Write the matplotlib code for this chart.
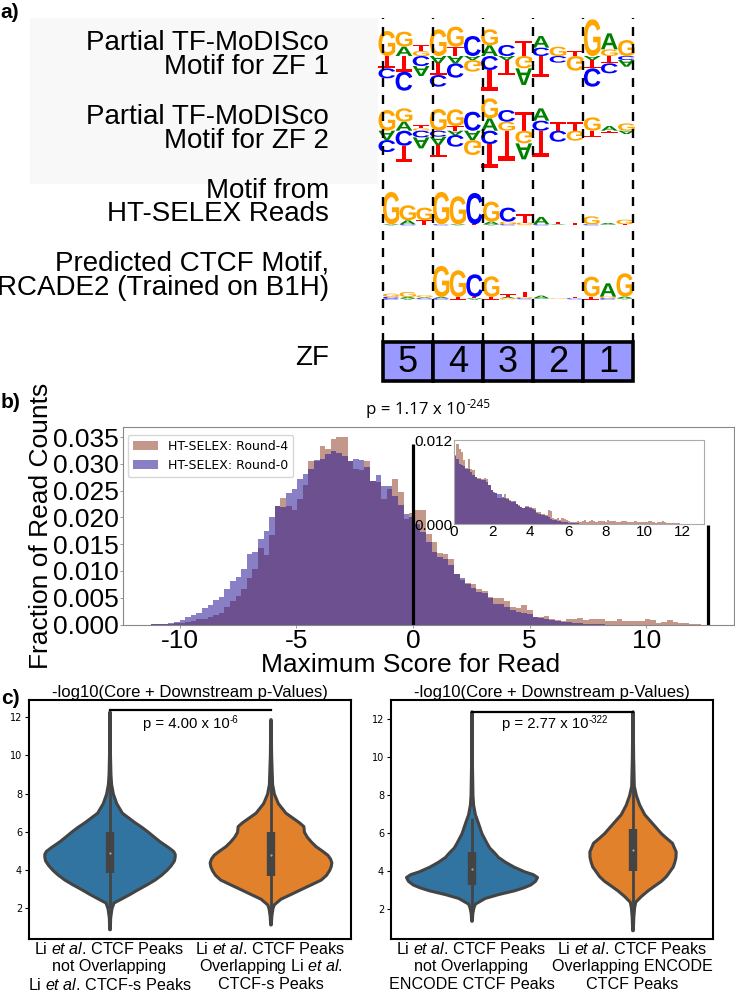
import numpy as np
import matplotlib
matplotlib.use('Agg')
import matplotlib.pyplot as plt
from matplotlib.font_manager import FontProperties
from matplotlib.patches import PathPatch, Rectangle, Patch
from matplotlib.path import Path
from matplotlib.textpath import TextPath
from matplotlib.transforms import Affine2D

plt.rcParams['font.family'] = ['Liberation Sans', 'DejaVu Sans']
plt.rcParams['mathtext.fontset'] = 'custom'
plt.rcParams['mathtext.rm'] = 'Liberation Sans'
plt.rcParams['mathtext.it'] = 'Liberation Sans:italic'

W, H = 735, 993

# sequence logos, one list per position, letters stacked out from the baseline
logo1_up = [[('G', 75)], [('A', 28), ('G', 45)], [('G', 15), ('T', 18)], [('G', 80)], [('T', 28), ('G', 60)],
            [('C', 60)], [('A', 32), ('G', 48)], [('C', 33)], [('T', 45)], [('C', 25), ('A', 35)],
            [('G', 28)], [('T', 15)], [('G', 110)], [('G', 20), ('A', 48)], [('G', 48)]]
logo1_down = [[('T', 37), ('C', 30)], [('T', 47), ('C', 57)], [('C', 30), ('A', 30)], [('A', 22), ('T', 35), ('C', 35)],
              [('A', 22), ('C', 43)], [('A', 12), ('G', 35)], [('C', 42), ('T', 62)], [('A', 12), ('T', 45)],
              [('G', 37), ('A', 50)], [('T', 64)], [('C', 20)], [('G', 44)], [('A', 12), ('T', 25), ('C', 55)],
              [('T', 22), ('C', 30)], [('C', 12), ('A', 20)]]
logo2_up = [[('G', 62)], [('A', 27), ('G', 40)], [('G', 7), ('T', 10)], [('G', 65)], [('T', 14), ('G', 50)],
            [('C', 57)], [('A', 37), ('G', 60)], [('G', 27), ('C', 35)], [('T', 57)], [('C', 30), ('A', 37)],
            [('T', 25)], [('T', 25)], [('G', 40)], [('A', 14)], [('G', 22)]]
logo2_down = [[('A', 28), ('C', 36)], [('C', 45), ('T', 48)], [('C', 20), ('A', 33)], [('C', 18), ('A', 25), ('T', 35)],
              [('A', 13), ('C', 35)], [('A', 28), ('G', 45)], [('C', 40), ('T', 73)], [('T', 90)],
              [('G', 38), ('A', 48)], [('T', 80)], [('C', 33)], [('G', 30)], [('T', 18)], [('T', 6)], [('A', 10)]]
logo3_up = [[('G', 97)], [('A', 12), ('G', 45)], [('T', 12), ('G', 38)], [('G', 97)], [('G', 84)],
            [('C', 94)], [('A', 8), ('G', 60)], [('G', 8), ('C', 42)], [('G', 5), ('T', 25)], [('A', 22)],
            [('T', 7)], [('T', 3)], [('G', 24)], [('A', 4)], [('G', 14)]]
logo3_down = [[('A', 3)], [('C', 3)], [('T', 2)], [('C', 3)], [('A', 3)], [('T', 3)], [('A', 3)], [('C', 3)],
              [('G', 3)], [('C', 3)], [('A', 2)], [('T', 2)], [('C', 3)], [('A', 2)], [('T', 3)]]
logo4_up = [[('C', 4), ('G', 10)], [('A', 4), ('G', 15)], [('A', 3), ('G', 6)], [('A', 4), ('G', 93)], [('T', 4), ('G', 80)],
            [('T', 4), ('C', 68)], [('T', 4), ('G', 62)], [('A', 4), ('T', 8)], [('G', 4), ('T', 16)], [('A', 8)],
            [('T', 2)], [('T', 5)], [('T', 5), ('G', 60)], [('G', 5), ('A', 40)], [('A', 5), ('G', 70)]]
logo4_down = [[('C', 4)], [('A', 4)], [('C', 3)], [('C', 4)], [('T', 4)], [('A', 4)], [('T', 4)], [('G', 4)],
              [('C', 3)], [('A', 2)], [('G', 2)], [('C', 3)], [('T', 4)], [('C', 4)], [('A', 3)]]
row_labels = [('Partial TF-MoDISco', 'Motif for ZF 1'), ('Partial TF-MoDISco', 'Motif for ZF 2'),
              ('Motif from', 'HT-SELEX Reads'), ('Predicted CTCF Motif,', 'RCADE2 (Trained on B1H)')]
zf_names = ['5', '4', '3', '2', '1']
letter_colors = {'A': '#008000', 'C': '#0000ff', 'G': '#ffa500', 'T': '#ff0000'}

# histogram of scores
round0 = [.00003, .00006, .0001, .0002, .0005, .0009, .0014, .0017, .0022, .0030, .0036, .0045, .0052, .0067, .0081,
          .0089, .0103, .0131, .0136, .0159, .0175, .0201, .0221, .0220, .0246, .0254, .0272, .0282, .0291, .0307,
          .0310, .0318, .0324, .0320, .0314, .0305, .0310, .0308, .0295, .0269, .0279, .0259, .0259, .0240, .0223,
          .0207, .0200, .0188, .0173, .0154, .0136, .0126, .0123, .0111, .0094, .0086, .0076, .0069, .0061, .0058,
          .0050, .0038, .0038, .0032, .0027, .0024, .0021, .0019, .0014, .0012, .0010, .0008, .0006, .0005, .0004,
          .0003, .0002, .0001, .0001, .00005, .00003, 0, 0, 0, 0, 0, 0, 0, 0, 0, 0, 0, 0, 0, 0, 0, 0, 0]
round4 = [.00001, .00002, .00005, .0001, .0002, .0003, .0005, .0006, .0010, .0010, .0014, .0018, .0021, .0033, .0044,
          .0053, .0067, .0086, .0104, .0142, .0129, .0167, .0221, .0237, .0222, .0213, .0235, .0260, .0305, .0305,
          .0334, .0328, .0346, .0351, .0350, .0305, .0291, .0289, .0305, .0269, .0266, .0235, .0254, .0271, .0248,
          .0198, .0208, .0213, .0213, .0170, .0154, .0134, .0132, .0123, .0094, .0083, .0078, .0075, .0067, .0063,
          .0052, .0050, .0049, .0044, .0032, .0030, .0036, .0028, .0014, .0014, .0016, .0011, .0009, .0007, .0011,
          .0011, .0013, .0009, .0011, .0011, .0010, .0007, .0007, .0011, .0007, .0007, .0007, .0006, .0010, .0009,
          .0003, .0005, .0009, .0005, .0003, .0002, .0001, .0001]
inset_round4 = [.00982, .01138, .01067, .01029, .00910, .00801, .00925, .00792, .00768, .00673, .00659, .00659, .00649,
                .00659, .00640, .00564, .00483, .00450, .00436, .00365, .00374, .00374, .00422, .00365, .00341, .00327,
                .00318, .00284, .00270, .00246, .00232, .00260, .00260, .00246, .00232, .00223, .00175, .00166, .00137,
                .00142, .00128, .00199, .00185, .00090, .00071, .00080, .00052, .00080, .00071, .00052, .00043, .00033,
                .00024, .00033, .00043, .00024, .00043, .00062, .00033, .00043, .00057, .00040, .00035, .00045, .00050,
                .00040, .00035, .00055, .00040, .00050, .00045, .00030, .00035, .00050, .00045, .00040, .00035, .00030,
                .00030, .00045, .00030, .00030, .00035, .00030, .00025, .00040, .00045, .00030, .00020, .00030, .00035,
                .00045, .00030, .00020, .00020, .00015, .00010, .00010, .00008, .00005, .00005, .00003, .00002]
inset_round0 = [.00972, .00934, .00863, .00839, .00830, .00792, .00792, .00744, .00697, .00673, .00640, .00640, .00626,
                .00626, .00602, .00564, .00483, .00460, .00450, .00422, .00422, .00389, .00365, .00356, .00327, .00318,
                .00327, .00280, .00261, .00242, .00223, .00246, .00246, .00232, .00213, .00194, .00156, .00147, .00128,
                .00128, .00119, .00100, .00071, .00062, .00062, .00043, .00043, .00033, .00033, .00024, .00019, .00014,
                .00014, .00009, .00009, .00005, .00005]
hist_edges = np.linspace(-11.2, 12.32, len(round0) + 1)
inset_edges = np.linspace(0, 12.36, len(inset_round4) + 1)
marker_scores = [0, 12.63]
marker_tops = [.0337, .0185]

# violins: score levels and half widths
v1_y = [.9, 1.5, 2.0, 2.3, 2.5, 2.75, 3, 3.25, 3.5, 3.75, 4, 4.25, 4.5, 4.7, 4.85, 5.0, 5.2, 5.5, 5.75, 6, 6.25, 6.5, 7, 7.5, 8, 8.5, 9, 10, 12.3]
v1_w = [.002, .004, .012, .025, .07, .125, .176, .23, .28, .32, .353, .38, .40, .405, .405, .395, .364, .312, .275, .239, .2, .156, .077, .042, .021, .01, .006, .003, .001]
v2_y = [1.15, 1.6, 2.0, 2.2, 2.5, 2.75, 3, 3.25, 3.5, 3.75, 4, 4.2, 4.4, 4.6, 4.8, 5, 5.25, 5.5, 5.75, 6, 6.3, 6.5, 6.75, 7, 7.5, 8, 8.5, 9, 10, 11.9]
v2_w = [.002, .005, .012, .02, .062, .125, .187, .25, .312, .345, .364, .374, .378, .37, .353, .322, .28, .25, .225, .208, .204, .177, .135, .093, .046, .021, .01, .008, .004, .001]
v3_y = [1.4, 1.8, 2.1, 2.3, 2.6, 2.8, 3, 3.15, 3.3, 3.5, 3.7, 3.85, 4, 4.25, 4.5, 4.75, 5, 5.25, 5.5, 6, 6.5, 7, 7.5, 8, 10, 12.4]
v3_w = [.002, .005, .012, .021, .083, .165, .264, .32, .364, .395, .407, .38, .326, .26, .208, .165, .139, .11, .093, .062, .042, .021, .01, .006, .002, .001]
v4_y = [.9, 1.6, 2.1, 2.4, 2.7, 3, 3.25, 3.5, 3.75, 4, 4.25, 4.5, 4.75, 5.05, 5.3, 5.5, 5.75, 6, 6.5, 7, 7.5, 8, 8.5, 10, 12.4]
v4_w = [.002, .005, .01, .017, .052, .094, .135, .177, .208, .229, .25, .26, .267, .268, .255, .245, .21, .177, .125, .073, .042, .021, .008, .004, .001]
box_low = [3.85, 3.7, 3.3, 4.0]
box_high = [6.0, 6.0, 5.0, 6.2]
whisk_low = [2.0, 1.9, 2.0, 1.9]
whisk_high = [8.9, 9.0, 6.8, 9.3]
medians = [4.9, 4.8, 4.1, 5.1]
left_labels = [['Li $\\it{et\\ al}$. CTCF Peaks', 'not Overlapping', 'Li $\\it{et\\ al}$. CTCF-s Peaks'],
               ['Li $\\it{et\\ al}$. CTCF Peaks', 'Overlapping Li $\\it{et\\ al}$.', 'CTCF-s Peaks']]
right_labels = [['Li $\\it{et\\ al}$. CTCF Peaks', 'not Overlapping', 'ENCODE CTCF Peaks'],
                ['Li $\\it{et\\ al}$. CTCF Peaks', 'Overlapping ENCODE', 'CTCF Peaks']]

fig = plt.figure(figsize=(W / 100, H / 100), dpi=100, facecolor='white')


def add_ax(left, top, right, bottom, **kw):
    return fig.add_axes([left / W, 1 - bottom / H, (right - left) / W, (bottom - top) / H], **kw)


def put(x, y, s, **kw):
    kw.setdefault('va', 'center')
    return fig.text(x / W, 1 - y / H, s, **kw)


def draw_letter(ax, ch, pos, y0, y1, flip):
    tp = TextPath((0, 0), ch, size=1, prop=FontProperties(family='Liberation Sans', weight='bold'))
    b = tp.get_extents()
    tr = Affine2D().translate(-b.x0, -b.y0).scale(0.98 / b.width, (y1 - y0) / b.height)
    if flip:
        tr = tr.scale(1, -1).translate(0, y1 - y0)
    tr = tr.translate(pos + 0.01, y0)
    ax.add_patch(PathPatch(Path(tr.transform(tp.vertices), tp.codes), fc=letter_colors[ch], lw=0))


def draw_logo(up, down, left, right, base):
    ax = add_ax(left, base - 60, right, base + 50)
    ax.set_xlim(0, 15)
    ax.set_ylim(-150, 180)
    ax.axis('off')
    for i, col in enumerate(up):
        y = 0
        for ch, h in col:
            draw_letter(ax, ch, i, y, y + h, False)
            y += h
    for i, col in enumerate(down):
        y = 0
        for ch, h in col:
            draw_letter(ax, ch, i, y - h, y, True)
            y -= h
    return ax


# panel a
fig.add_artist(Rectangle((30 / W, 1 - 184 / H), 348 / W, 166 / H, transform=fig.transFigure,
                         fc='#f8f8f8', ec='none', zorder=-1))
draw_logo(logo1_up, logo1_down, 378.3, 635, 56)
draw_logo(logo2_up, logo2_down, 378.3, 635, 130.7)
draw_logo(logo3_up, logo3_down, 382.7, 633, 224.3)
draw_logo(logo4_up, logo4_down, 382.7, 633, 298.3)

dash_ax = add_ax(383, 18, 633, 342)
dash_ax.set_xlim(0, 5)
dash_ax.set_ylim(0, 1)
dash_ax.axis('off')
for i in range(6):
    dash_ax.axvline(i, color='black', lw=1.7, dashes=(3.8, 3.4), clip_on=False)

zf_ax = add_ax(383, 342, 633, 381)
zf_ax.bar(range(5), [1] * 5, width=1, color='#9999ff', edgecolor='black', lw=2.6, clip_on=False)
zf_ax.set_xlim(-.5, 4.5)
zf_ax.set_ylim(0, 1)
zf_ax.axis('off')
for i, name in enumerate(zf_names):
    zf_ax.text(i, .47, name, ha='center', va='center', fontsize=26)

for (a, b), (y1, y2) in zip(row_labels, [(43, 67), (117, 141), (191, 214), (263, 288)]):
    put(329, y1, a, ha='right', fontsize=20)
    put(329, y2, b, ha='right', fontsize=20)
put(329, 358, 'ZF', ha='right', fontsize=20)
put(0, 12, 'a)', fontsize=15, fontweight='bold')
put(1, 402, 'b)', fontsize=15, fontweight='bold')
put(1, 698, 'c)', fontsize=15, fontweight='bold')

# panel b
r4_c, r0_c = (147 / 255, 66 / 255, 42 / 255), (38 / 255, 22 / 255, 148 / 255)
ax = add_ax(123, 427, 734, 624.5)
ax.stairs(round4, hist_edges, fill=True, color=r4_c, alpha=.55)
ax.stairs(round0, hist_edges, fill=True, color=r0_c, alpha=.55)
ax.set_xlim(-12.42, 13.75)
ax.set_ylim(0, .0369)
ax.set_xticks([-10, -5, 0, 5, 10], ['-10', '-5', '0', '5', '10'])
ax.set_yticks(np.arange(0, .036, .005), ['%.3f' % v for v in np.arange(0, .036, .005)])
ax.tick_params(labelsize=19, length=2, width=.6, color='#888888', pad=1)
for s in ax.spines.values():
    s.set_color('#888888')
for x, top in zip(marker_scores, marker_tops):
    ax.plot([x, x], [0, top], color='black', lw=2.3, solid_capstyle='butt')
ax.set_xlabel('Maximum Score for Read', fontsize=19, labelpad=0, x=.47)
ax.set_ylabel('Fraction of Read Counts', fontsize=19, labelpad=0)
ax.legend(handles=[Patch(color=r4_c, alpha=.55, lw=0, label='HT-SELEX: Round-4'),
                   Patch(color=r0_c, alpha=.55, lw=0, label='HT-SELEX: Round-0')],
          loc='upper left', bbox_to_anchor=(.008, .96), prop={'family': 'DejaVu Sans', 'size': 9},
          borderaxespad=0, framealpha=.8)
put(366, 410, 'p = 1.17 x 10', family='Open Sans', fontsize=12.2)
put(467, 405, '-245', family='Open Sans', fontsize=8.5)

ins = add_ax(454, 440, 704, 524)
ins.stairs(inset_round4, inset_edges, fill=True, color=r4_c, alpha=.55)
ins.stairs(inset_round0, inset_edges[:len(inset_round0) + 1], fill=True, color=r0_c, alpha=.55)
ins.set_xlim(0, 13.15)
ins.set_ylim(0, .012)
ins.set_xticks(range(0, 13, 2))
ins.set_yticks([0, .012], ['0.000', '0.012'])
ins.tick_params(labelsize=11, length=0, pad=1)
for s in ins.spines.values():
    s.set_color('#aaaaaa')

# panel c
colors = ['#3274a1', '#e1812c']
dark = '#444444'


def draw_violins(left, right, ylim, series, idx, labels, pval, pexp, px, sx):
    a = add_ax(left, 700, right, 939)
    for k, (vy, vw) in enumerate(series):
        vy, vw = np.array(vy), np.array(vw)
        a.fill_betweenx(vy, k - vw, k + vw, facecolor=colors[k], edgecolor=dark, lw=2.2, joinstyle='round')
        j = idx[k]
        a.plot([k, k], [whisk_low[j], whisk_high[j]], color=dark, lw=2.0, solid_capstyle='butt')
        a.plot([k, k], [box_low[j], box_high[j]], color=dark, lw=6, solid_capstyle='butt')
        a.plot(k, medians[j], '.', color='#bbbbbb', ms=1)
        for ypx, line in zip([949, 967, 984.5], labels[k]):
            a.text(k, (939 - ypx) / 239, line, transform=a.get_xaxis_transform(), ha='center', va='center', fontsize=11.6)
    a.plot([0, 1], [12.38, 12.38], color='black', lw=1.6)
    a.set_xlim(-.5, 1.5)
    a.set_ylim(*ylim)
    a.set_yticks(range(2, 13, 2))
    a.set_xticks([])
    a.tick_params(axis='y', labelsize=7, length=3, width=.8, pad=2, labelfontfamily='DejaVu Sans')
    for s in a.spines.values():
        s.set_linewidth(1.5)
    a.set_title('-log10(Core + Downstream p-Values)', fontsize=12, pad=2)
    put(px, 724, pval, fontsize=10.7)
    put(sx, 720, pexp, fontsize=7)
    return a


draw_violins(29, 351, (.39, 12.9), [(v1_y, v1_w), (v2_y, v2_w)], [0, 1], left_labels, 'p = 4.00 x 10', '-6', 143, 230)
draw_violins(391, 713, (.44, 13.0), [(v3_y, v3_w), (v4_y, v4_w)], [2, 3], right_labels, 'p = 2.77 x 10', '-322', 502, 589)

fig.savefig('out.png', dpi=100)
